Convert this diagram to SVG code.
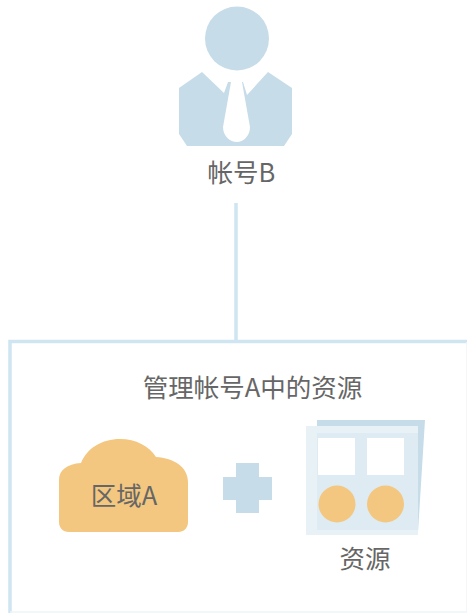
<svg xmlns="http://www.w3.org/2000/svg" width="467" height="613" viewBox="0 0 467 613">
<style>
text{font-family:"Noto Sans CJK SC","Liberation Sans",sans-serif;fill:#666;font-size:25.500px;text-anchor:middle}
.blue{fill:#c6dce9}
.pale{fill:#deebf2}
.paler{fill:#e8f1f6}
.org{fill:#f3c77f}
.w{fill:#fff}
.line{stroke:#cfe5f1;fill:none;stroke-width:3.500}
</style>
<rect width="467" height="613" fill="#fff"/>
<g id="connectors"><path class="line" d="M236 203V341"/></g>
<g id="container"><path class="line" d="M10 613V341.500H467"/>
<path d="M467 342V612H10" fill="none" stroke="#eef5f9" stroke-width="1.500"/>
<text x="252.500" y="397">管理帐号A中的资源</text></g>
<g id="user">
<circle class="blue" cx="237" cy="38.500" r="32"/>
<path class="blue" d="M179 88L202 72L224 93L228 82H243L247 95L268 72L292 88V134L284 146H187L179 134Z"/>
<path class="w" d="M231 82H242L250 127C250 136 243 142 237 142C230 142 223 136 223 127Z"/>
<text x="241.500" y="182">帐号B</text>
</g>
<g id="region">
<path class="org" d="M59 480C59 470 67 464 81 463C87 448 102 439 120 439C136 439 149 446 156 457C174 458 188 467 188 482V522C188 528 184 532 178 532H69C63 532 59 528 59 522Z"/>
<text x="124" y="505">区域A</text>
</g>
<g id="plus"><path class="blue" d="M236 463H259V477H272V500H259V513H236V500H223V477H236Z"/></g>
<g id="resource">
<path class="blue" d="M317 420H425L418 532H317Z"/>
<rect class="paler" x="306" y="426" width="112" height="109"/>
<rect class="pale" x="317" y="433" width="101" height="97"/>
<rect class="w" x="318" y="438" width="37" height="37"/>
<rect class="w" x="367" y="438" width="37" height="37"/>
<circle class="org" cx="337" cy="504" r="18.500"/>
<circle class="org" cx="385.500" cy="504" r="18.500"/>
<text x="365" y="568">资源</text>
</g>
</svg>
